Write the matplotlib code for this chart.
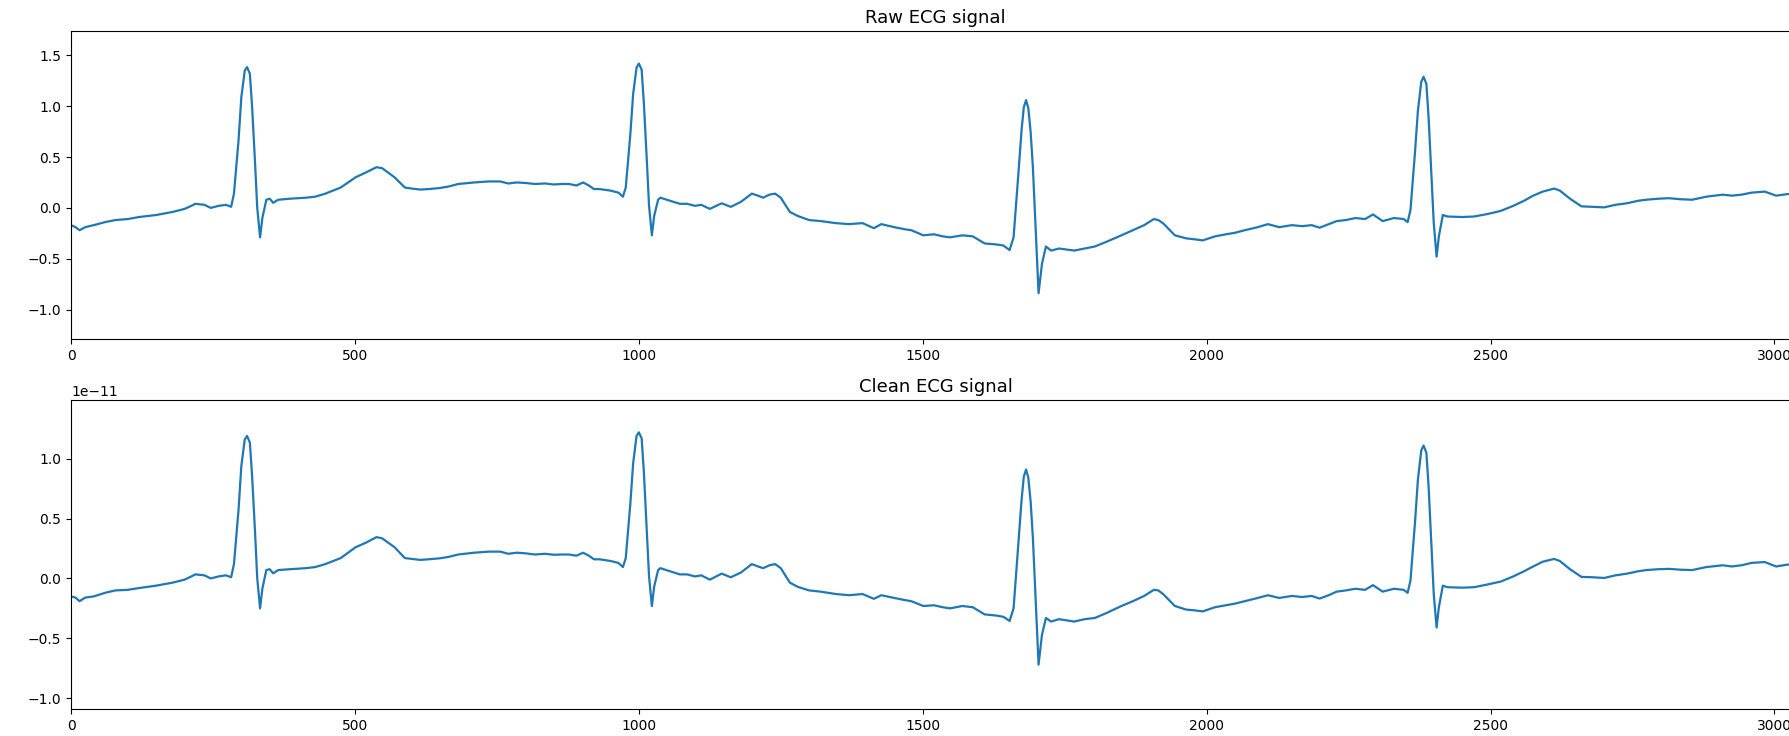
import numpy as np
import matplotlib
matplotlib.use("Agg")
import matplotlib.pyplot as plt

# Sample indices (shared by both panels)
sample_x = [0, 8, 15, 25, 40, 60, 78, 100, 120, 150,
            179, 200, 212, 219, 235, 246, 260, 273, 282, 287,
            295, 300, 306, 310, 315, 319, 324, 328, 333, 337,
            344, 350, 356, 365, 385, 414, 430, 448, 475, 501,
            520, 538, 548, 570, 588, 600, 615, 630, 649, 665,
            682, 710, 736, 756, 770, 785, 800, 817, 835, 850,
            865, 877, 890, 902, 912, 921, 931, 950, 964, 972,
            977, 985, 990, 996, 1000, 1005, 1009, 1014, 1018, 1023,
            1027, 1034, 1038, 1055, 1072, 1085, 1099, 1110, 1125, 1146,
            1162, 1180, 1199, 1210, 1219, 1230, 1240, 1250, 1266, 1280,
            1300, 1320, 1347, 1370, 1394, 1414, 1427, 1450, 1468, 1480,
            1501, 1520, 1535, 1548, 1570, 1588, 1609, 1630, 1642, 1653,
            1660, 1668, 1674, 1678, 1682, 1686, 1690, 1694, 1699, 1704,
            1710, 1717, 1726, 1740, 1753, 1767, 1785, 1803, 1823, 1850,
            1870, 1890, 1907, 1915, 1924, 1944, 1964, 1980, 1993, 2015,
            2034, 2050, 2067, 2090, 2108, 2128, 2150, 2168, 2185, 2199,
            2215, 2229, 2245, 2262, 2279, 2293, 2310, 2330, 2347, 2354,
            2359, 2367, 2372, 2378, 2382, 2387, 2391, 2396, 2400, 2405,
            2409, 2416, 2424, 2450, 2471, 2495, 2518, 2540, 2559, 2575,
            2592, 2612, 2622, 2640, 2660, 2680, 2700, 2720, 2740, 2760,
            2774, 2795, 2814, 2835, 2855, 2880, 2909, 2925, 2942, 2960,
            2983, 3003, 3022, 3045]

# Raw ECG values
raw_y = [-0.17, -0.19, -0.22, -0.19, -0.17, -0.14, -0.12, -0.11, -0.09, -0.07,
         -0.04, -0.01, 0.02, 0.04, 0.03, 0.0, 0.02, 0.03, 0.01, 0.14,
         0.66, 1.09, 1.35, 1.385, 1.32, 0.99, 0.46, 0.0, -0.29, -0.10,
         0.08, 0.09, 0.05, 0.08, 0.09, 0.10, 0.11, 0.14, 0.20, 0.30,
         0.35, 0.40, 0.39, 0.30, 0.20, 0.19, 0.18, 0.185, 0.195, 0.21,
         0.235, 0.25, 0.26, 0.26, 0.24, 0.25, 0.245, 0.235, 0.24, 0.23,
         0.235, 0.235, 0.22, 0.25, 0.22, 0.185, 0.185, 0.17, 0.15, 0.11,
         0.20, 0.72, 1.12, 1.38, 1.42, 1.36, 1.02, 0.48, 0.02, -0.27,
         -0.08, 0.08, 0.10, 0.07, 0.04, 0.04, 0.02, 0.03, -0.01, 0.045,
         0.01, 0.06, 0.14, 0.12, 0.10, 0.13, 0.14, 0.10, -0.04, -0.08,
         -0.12, -0.13, -0.15, -0.16, -0.15, -0.20, -0.16, -0.19, -0.21, -0.22,
         -0.27, -0.26, -0.28, -0.29, -0.27, -0.28, -0.35, -0.36, -0.37, -0.415,
         -0.29, 0.30, 0.76, 0.99, 1.06, 0.98, 0.75, 0.40, -0.23, -0.84,
         -0.55, -0.38, -0.42, -0.40, -0.41, -0.42, -0.40, -0.38, -0.335, -0.27,
         -0.22, -0.17, -0.11, -0.12, -0.155, -0.27, -0.30, -0.31, -0.32, -0.28,
         -0.26, -0.245, -0.22, -0.19, -0.16, -0.19, -0.17, -0.18, -0.17, -0.195,
         -0.16, -0.13, -0.12, -0.10, -0.11, -0.065, -0.13, -0.10, -0.11, -0.14,
         -0.02, 0.55, 0.95, 1.24, 1.29, 1.22, 0.88, 0.30, -0.15, -0.48,
         -0.28, -0.07, -0.085, -0.09, -0.085, -0.06, -0.03, 0.02, 0.07, 0.12,
         0.16, 0.19, 0.17, 0.09, 0.015, 0.01, 0.005, 0.03, 0.045, 0.07,
         0.08, 0.09, 0.095, 0.085, 0.08, 0.11, 0.13, 0.12, 0.13, 0.15,
         0.16, 0.12, 0.135, 0.14]

# Clean ECG values, in units of 1e-11
clean_y = [-0.15, -0.16, -0.19, -0.16, -0.15, -0.12, -0.10, -0.095, -0.08, -0.06,
           -0.035, -0.01, 0.017, 0.034, 0.026, 0.0, 0.017, 0.026, 0.01, 0.12,
           0.57, 0.94, 1.16, 1.19, 1.135, 0.85, 0.40, 0.0, -0.25, -0.086,
           0.07, 0.077, 0.043, 0.07, 0.077, 0.086, 0.095, 0.12, 0.17, 0.26,
           0.30, 0.345, 0.335, 0.26, 0.17, 0.163, 0.155, 0.16, 0.168, 0.18,
           0.20, 0.215, 0.224, 0.224, 0.206, 0.215, 0.21, 0.20, 0.206, 0.198,
           0.20, 0.20, 0.19, 0.215, 0.19, 0.16, 0.16, 0.146, 0.13, 0.095,
           0.17, 0.62, 0.96, 1.19, 1.22, 1.17, 0.88, 0.41, 0.017, -0.23,
           -0.07, 0.07, 0.086, 0.06, 0.034, 0.034, 0.017, 0.026, -0.01, 0.04,
           0.01, 0.05, 0.12, 0.10, 0.086, 0.11, 0.12, 0.086, -0.035, -0.07,
           -0.10, -0.11, -0.13, -0.14, -0.13, -0.17, -0.14, -0.163, -0.18, -0.19,
           -0.23, -0.224, -0.24, -0.25, -0.23, -0.24, -0.30, -0.31, -0.32, -0.355,
           -0.25, 0.26, 0.65, 0.85, 0.91, 0.84, 0.645, 0.34, -0.20, -0.72,
           -0.47, -0.33, -0.36, -0.34, -0.35, -0.36, -0.34, -0.33, -0.29, -0.23,
           -0.19, -0.146, -0.095, -0.10, -0.133, -0.23, -0.26, -0.267, -0.275, -0.24,
           -0.224, -0.21, -0.19, -0.163, -0.14, -0.163, -0.146, -0.155, -0.146, -0.168,
           -0.14, -0.11, -0.10, -0.086, -0.095, -0.056, -0.11, -0.086, -0.095, -0.12,
           -0.017, 0.47, 0.82, 1.07, 1.11, 1.05, 0.76, 0.26, -0.13, -0.41,
           -0.24, -0.06, -0.073, -0.077, -0.073, -0.05, -0.026, 0.017, 0.06, 0.10,
           0.14, 0.163, 0.146, 0.077, 0.013, 0.01, 0.004, 0.026, 0.04, 0.06,
           0.07, 0.077, 0.08, 0.073, 0.07, 0.095, 0.11, 0.10, 0.11, 0.13,
           0.137, 0.10, 0.115, 0.12]

titles = ["Raw ECG signal", "Clean ECG signal"]
xticks = [0, 500, 1000, 1500, 2000, 2500, 3000]
raw_yticks = [-1.0, -0.5, 0.0, 0.5, 1.0, 1.5]
clean_yticks = [-1.0, -0.5, 0.0, 0.5, 1.0]

W, H = 1789, 736
fig = plt.figure(figsize=(W / 100, H / 100), dpi=100)

left = 71 / W
width = (1800 - 71) / W
ax1 = fig.add_axes([left, 1 - 339 / H, width, (339 - 31) / H])
ax2 = fig.add_axes([left, 1 - 709 / H, width, (709 - 400) / H])

ax1.plot(sample_x, raw_y, color="#1f77b4", lw=1.6)
ax1.set_ylim(-1.29, 1.74)
ax1.set_yticks(raw_yticks)

ax2.plot(sample_x, np.array(clean_y) * 1e-11, color="#1f77b4", lw=1.6)
ax2.set_ylim(-1.09e-11, 1.49e-11)
ax2.set_yticks(np.array(clean_yticks) * 1e-11)

for ax, t in zip([ax1, ax2], titles):
    ax.set_xlim(0, 3045)
    ax.set_xticks(xticks)
    ax.set_title(t, fontsize=13)
    ax.tick_params(labelsize=10)

fig.savefig("out.png", dpi=100)
